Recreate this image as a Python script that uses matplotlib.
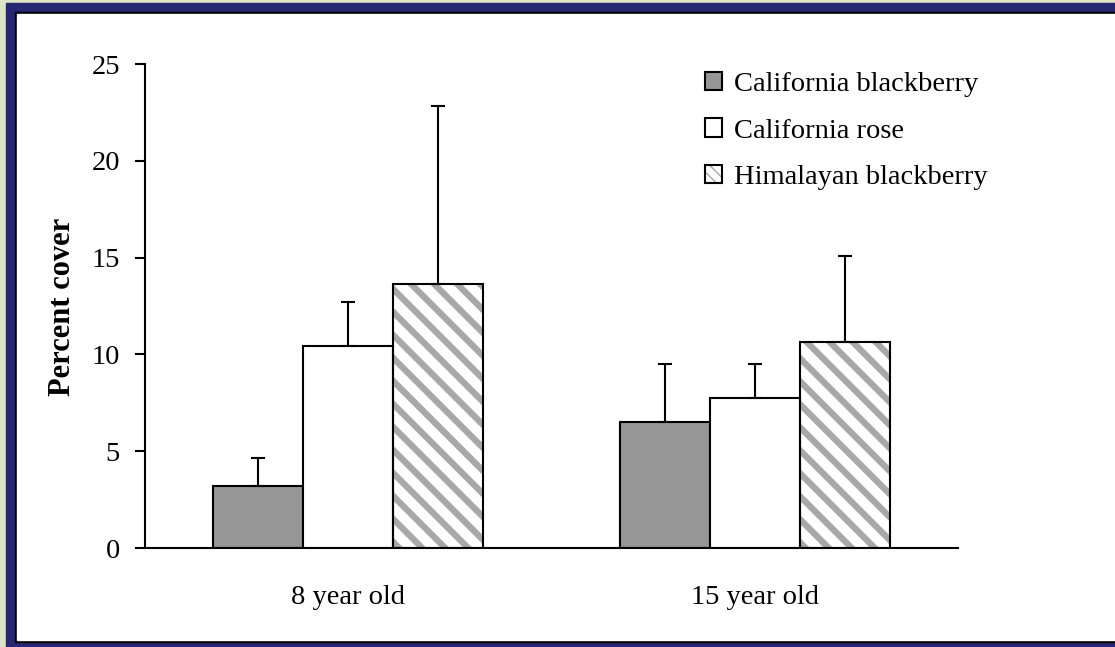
import numpy as np
import matplotlib
matplotlib.use('Agg')
import matplotlib.pyplot as plt
from matplotlib.patches import Rectangle, Patch
from matplotlib.collections import LineCollection
from matplotlib.transforms import IdentityTransform

# Data
categories = ['8 year old', '15 year old']
species = ['California blackberry', 'California rose', 'Himalayan blackberry']
cal_blackberry = [3.2, 6.5]
cal_blackberry_err = [1.45, 3.0]
cal_rose = [10.45, 7.75]
cal_rose_err = [2.25, 1.75]
himalayan = [13.65, 10.65]
himalayan_err = [9.2, 4.45]

plt.rcParams['font.family'] = ['Liberation Serif', 'DejaVu Serif']

W, H = 1115, 647
STRIPE = '#a8a8a8'
fig = plt.figure(figsize=(W / 100, H / 100), dpi=100)
fig.patch.set_facecolor('#dde3c3')

# Frame: navy border, thin black line, white panel (pixel coords)
def px_rect(x0, y0, x1, y1, color):
    fig.patches.append(Rectangle((x0 / W, y0 / H), (x1 - x0) / W, (y1 - y0) / H,
                                 transform=fig.transFigure, color=color, zorder=-10))

px_rect(6, 0, W, 644, '#262772')
px_rect(15, 5, W, 635, 'black')
px_rect(17, 7, W, 633, 'white')

ax = fig.add_axes([145 / W, 1 - 548 / H, (958 - 145) / W, (548 - 64) / H])
ax.set_facecolor('none')
ax.set_xlim(-0.5, 1.5)
ax.set_ylim(0, 25)

x = np.arange(len(categories))
w = 0.221
series = [cal_blackberry, cal_rose, himalayan]
errors = [cal_blackberry_err, cal_rose_err, himalayan_err]
faces = ['#969696', 'white', 'white']

for i, (vals, errs) in enumerate(zip(series, errors)):
    pos = x + (i - 1) * w
    bars = ax.bar(pos, vals, width=w, color=faces[i], edgecolor='black', linewidth=1.5,
                  zorder=2)
    if i == 2:
        # grey diagonal stripes, clipped to each bar
        for b in bars:
            b.set_facecolor('none')
            b.set_zorder(2.2)
            (x0, y0), (x1, y1) = ax.transData.transform(
                [(b.get_x(), b.get_y()), (b.get_x() + b.get_width(), b.get_y() + b.get_height())])
            segs = []
            for c in np.arange(x0 + y0 - 40, x1 + y1 + 40, 23):
                segs.append([(c - y0 + 30, y0 - 30), (c - y1 - 30, y1 + 30)])
            lc = LineCollection(segs, colors=STRIPE, linewidths=4.6,
                                transform=IdentityTransform(), zorder=2.1)
            lc.set_clip_path(b.get_path(), b.get_transform())
            ax.add_collection(lc, autolim=False)
    ax.errorbar(pos, vals, yerr=[np.zeros(len(errs)), errs], fmt='none',
                ecolor='black', elinewidth=1.5, capsize=5, capthick=1.5, zorder=3)

ax.set_xlim(-0.5, 1.5)
ax.set_ylim(0, 25)
ax.set_yticks([0, 5, 10, 15, 20, 25])
ax.set_xticks(x)
ax.set_xticklabels(categories)

for s in ['top', 'right']:
    ax.spines[s].set_visible(False)
for s in ['left', 'bottom']:
    ax.spines[s].set_linewidth(1.5)

ax.tick_params(axis='y', direction='out', length=7.5, width=1.5, pad=10.5, labelsize=20.5)
ax.tick_params(axis='x', length=0, pad=27, labelsize=20.5)

fig.text(62 / W, 1 - 307 / H, 'Percent cover', rotation=90, ha='center', va='center',
         fontsize=22, fontweight='bold')

handles = [Patch(facecolor=faces[0], edgecolor='black', linewidth=1.5),
           Patch(facecolor=faces[1], edgecolor='black', linewidth=1.5),
           (Patch(facecolor='white', edgecolor=STRIPE, linewidth=0, hatch='\\\\\\'),
            Patch(facecolor='none', edgecolor='black', linewidth=1.5))]
ax.legend(handles, species, loc='upper left', bbox_to_anchor=(705 / W, 1 - 72 / H),
          bbox_transform=fig.transFigure, frameon=False, fontsize=20.5,
          handlelength=0.6, handleheight=0.6, handletextpad=0.42,
          labelspacing=0.75, borderpad=0, borderaxespad=0)

fig.savefig('out.png', dpi=100, facecolor=fig.get_facecolor())
